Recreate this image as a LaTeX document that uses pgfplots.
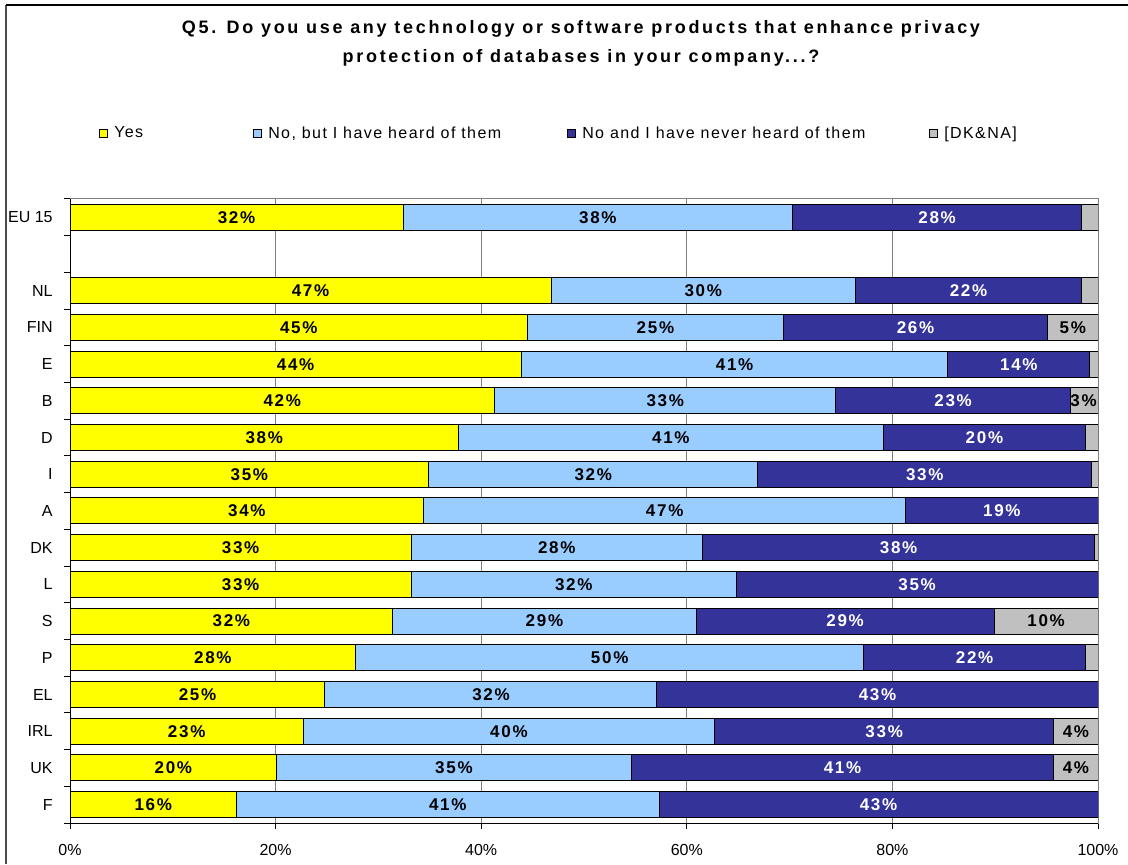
\documentclass[border=0pt]{standalone}
\usepackage{pgfplots}
\pgfplotsset{compat=1.18}
\usepackage{pgfplotstable}
\usepackage{fontspec}
\setmainfont{Liberation Sans}
\newfontfamily\spaced[LetterSpace=15]{Liberation Sans}
\newfontfamily\lblfont[LetterSpace=10]{Liberation Sans}
\newfontfamily\legfont[LetterSpace=9]{Liberation Sans}
\definecolor{cyes}{HTML}{FFFF00}
\definecolor{cheard}{HTML}{99CCFF}
\definecolor{cnever}{HTML}{333399}
\definecolor{cdk}{HTML}{C0C0C0}
\definecolor{gridgray}{HTML}{808080}

\pgfplotstableread{
y yes heard never dk ly lh ln
16 32.4 37.9 28.1 1.6 32 38 28
14 46.8 29.6 22.0 1.6 47 30 22
13 44.5 24.9 25.7 4.9 45 25 26
12 43.9 41.5 13.8 0.8 44 41 14
11 41.3 33.2 22.8 2.7 42 33 23
10 37.8 41.3 19.7 1.2 38 41 20
9 34.9 32.0 32.5 0.6 35 32 33
8 34.4 46.9 18.7 0.0 34 47 19
7 33.2 28.3 38.2 0.3 33 28 38
6 33.2 31.6 35.2 0.0 33 32 35
5 31.4 29.5 29.0 10.1 32 29 29
4 27.8 49.4 21.6 1.2 28 50 22
3 24.8 32.3 42.9 0.0 25 32 43
2 22.7 40.0 33.0 4.3 23 40 33
1 20.1 34.5 41.1 4.3 20 35 41
0 16.2 41.1 42.7 0.0 16 41 43
}\data

\pgfplotstableread{
y x ld
13 97.55 5
11 98.6 3
5 94.95 10
2 97.85 4
1 97.85 4
}\dklabels

\begin{document}
\begin{tikzpicture}[x=0.75pt,y=0.75pt]
\path[use as bounding box] (0,0) rectangle (1128,864);
\draw[line width=1.3pt, black!70] (6,0) -- (6,859);
\draw[line width=1pt, black] (5.5,859) -- (1128,859);

\node[anchor=base, font=\spaced\bfseries\fontsize{13.5}{16}\selectfont] at (581,830)
  {Q5. Do you use any technology or software products that enhance privacy};
\node[anchor=base, font=\spaced\bfseries\fontsize{13.5}{16}\selectfont] at (581,801)
  {protection of databases in your company...?};

\begin{axis}[
  at={(52.5pt,30.75pt)}, anchor=south west, scale only axis,
  width=771pt, height=468pt,
  xbar stacked, bar width=19.5pt,
  xmin=0, xmax=100, ymin=-0.5, ymax=16.5,
  xtick={0,20,40,60,80,100},
  xticklabels={0\%,20\%,40\%,60\%,80\%,100\%},
  ytick={-0.5,0.5,...,16.5},
  yticklabels={F,UK,IRL,EL,P,S,L,DK,A,I,D,B,E,FIN,NL,{},EU 15,{}},
  tick align=outside, xtick pos=left, ytick pos=left,
  major tick length=4.5pt,
  tick style={black, line width=0.75pt},
  xmajorgrids, major grid style={gridgray, line width=0.75pt},
  axis line style={gridgray, line width=0.75pt},
  ticklabel style={font=\fontsize{12}{14}\selectfont},
  yticklabel style={yshift=13.76pt, xshift=-5pt},
  xticklabel style={yshift=-8pt},
  every axis plot/.append style={draw=black, line width=0.75pt},
  legend columns=4,
  legend style={at={(0.0282,1.105)}, anchor=west, draw=none, fill=none,
    inner sep=0pt, column sep=0pt, row sep=0pt, nodes={inner sep=0pt},
    font=\legfont\fontsize{12}{14}\selectfont},
  legend image code/.code={\draw[#1, line width=0.75pt] (0pt,-3pt) rectangle (6pt,3pt);},
]
\addplot[fill=cyes] table[x=yes, y=y]{\data};
\addlegendentry{\hspace*{4.5pt}\makebox[104.25pt][l]{Yes}}
\addplot[fill=cheard] table[x=heard, y=y]{\data};
\addlegendentry{\hspace*{4.5pt}\makebox[224.25pt][l]{No, but I have heard of them}}
\addplot[fill=cnever] table[x=never, y=y]{\data};
\addlegendentry{\hspace*{4.5pt}\makebox[260.25pt][l]{No and I have never heard of them}}
\addplot[fill=cdk] table[x=dk, y=y]{\data};
\addlegendentry{\hspace*{4.5pt}[DK\&NA]}
\draw[black, line width=0.75pt] (rel axis cs:0,0) -- (rel axis cs:0,1);
\draw[black, line width=0.75pt] (rel axis cs:0,0) -- (rel axis cs:1,0);
\end{axis}

\begin{axis}[
  at={(52.5pt,30.75pt)}, anchor=south west, scale only axis,
  width=771pt, height=468pt,
  xmin=0, xmax=100, ymin=-0.5, ymax=16.5,
  hide axis, clip=false,
  point meta=explicit symbolic,
  nodes near coords={\pgfplotspointmeta\%},
  every node near coord/.append style={anchor=center, inner sep=0pt,
    font=\lblfont\bfseries\fontsize{12.75}{14}\selectfont},
]
\addplot[draw=none, mark=none, every node near coord/.append style={text=black}]
  table[x expr=\thisrow{yes}/2, y=y, meta=ly]{\data};
\addplot[draw=none, mark=none, every node near coord/.append style={text=black}]
  table[x expr=\thisrow{yes}+\thisrow{heard}/2, y=y, meta=lh]{\data};
\addplot[draw=none, mark=none, every node near coord/.append style={text=white}]
  table[x expr=\thisrow{yes}+\thisrow{heard}+\thisrow{never}/2, y=y, meta=ln]{\data};
\addplot[draw=none, mark=none, every node near coord/.append style={text=black}]
  table[x=x, y=y, meta=ld]{\dklabels};
\end{axis}
\end{tikzpicture}
\end{document}
